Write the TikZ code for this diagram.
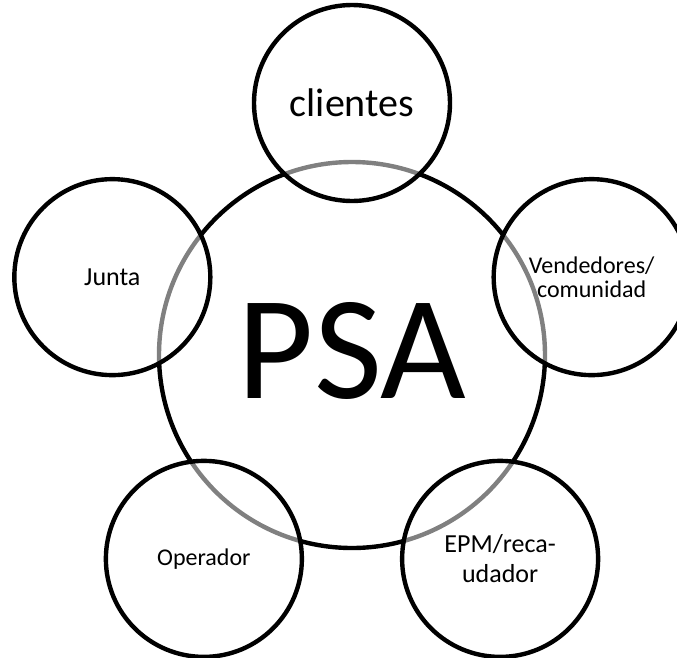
\documentclass[tikz,border=0pt]{standalone}
\usepackage{fontspec}
\setmainfont{Carlito}
\usetikzlibrary{positioning}
\tikzset{
  hub/.style={circle, draw, line width=4.4pt, minimum size=386pt, inner sep=0pt,
    text depth=10pt, font=\fontsize{148}{160}\selectfont},
  actor/.style={circle, draw, line width=4.4pt, minimum size=196pt, inner sep=0pt,
    fill=white, fill opacity=0.5, text opacity=1, align=center,
    font=\fontsize{24}{29}\selectfont}
}

\begin{document}
\begin{tikzpicture}[x=1pt, y=1pt]
    \useasboundingbox (-352,-302) rectangle (325,355);
    \node[hub] (psa) at (0,0) {PSA};
    \node[actor, font=\fontsize{40}{46}\selectfont] (clientes) at (90:252pt) {clientes};
    \node[actor, font=\fontsize{26}{29}\selectfont] (junta) at (162:252pt) {Junta};
    \node[actor, font=\fontsize{24}{24}\selectfont] (vendedores) at (18:252pt) {Vendedores/\\comunidad};
    \node[actor] (operador) at (234:252pt) {Operador};
    \node[actor, font=\fontsize{26}{30}\selectfont] (epm) at (306:252pt) {EPM/reca-\\udador};
\end{tikzpicture}
\end{document}
